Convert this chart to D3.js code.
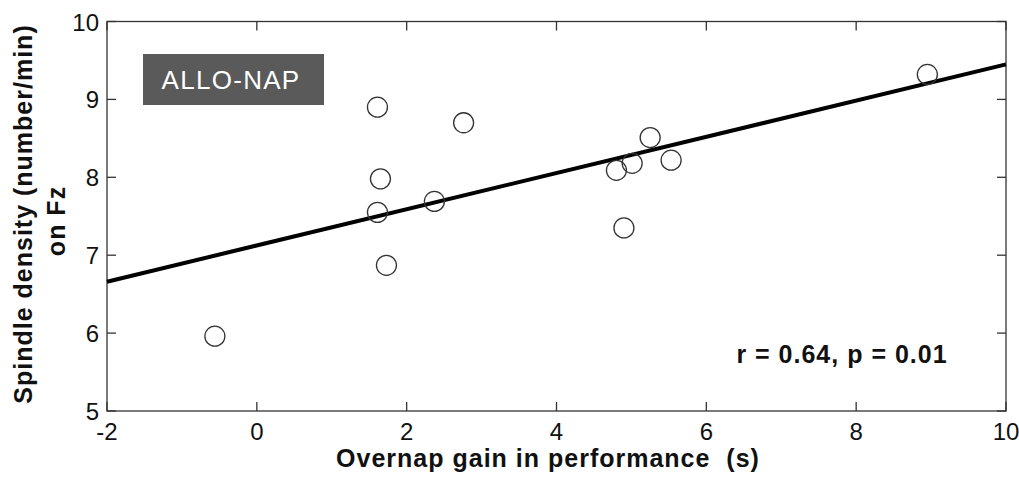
<!DOCTYPE html>
<html>
<head>
<meta charset="utf-8">
<script src="https://cdn.jsdelivr.net/npm/d3@7"></script>
<style>
    body { margin: 0; background: #fff; }
    text { font-family: "Liberation Sans", Arial, sans-serif; }
    .tick-label { font-size: 24px; fill: #111; }
    .axis-title { font-size: 25px; font-weight: bold; fill: #111; letter-spacing: 1px; }
</style>
</head>
<body>
<div id="chart"></div>
<script>
// overnap gain (s) vs spindle density on Fz
let gain = [-0.56, 1.61, 1.65, 1.61, 1.73, 2.37, 2.76, 4.80, 4.90, 5.01, 5.25, 5.53, 8.95];
let density = [5.96, 8.90, 7.98, 7.55, 6.87, 7.69, 8.70, 8.09, 7.35, 8.18, 8.51, 8.22, 9.32];

// regression line endpoints
let fitX = [-2, 10];
let fitY = [6.66, 9.45];

let xTicks = [-2, 0, 2, 4, 6, 8, 10];
let yTicks = [5, 6, 7, 8, 9, 10];

let width = 1019, height = 480;
let plotLeft = 107, plotRight = 1006, plotTop = 21.5, plotBottom = 411;

let svg = d3.select('#chart').append('svg')
    .attr('width', width)
    .attr('height', height);

let x = d3.scaleLinear().domain([-2, 10]).range([plotLeft, plotRight]);
let y = d3.scaleLinear().domain([5, 10]).range([plotBottom, plotTop]);

let tickLen = 9;
let axisColor = '#333';

// frame
svg.append('rect')
    .attr('x', plotLeft).attr('y', plotTop)
    .attr('width', plotRight - plotLeft).attr('height', plotBottom - plotTop)
    .attr('fill', 'none')
    .attr('stroke', axisColor)
    .attr('stroke-width', 1.3);

// inward ticks on all four sides
xTicks.forEach(function (t) {
    svg.append('line')
        .attr('x1', x(t)).attr('x2', x(t))
        .attr('y1', plotBottom).attr('y2', plotBottom - tickLen)
        .attr('stroke', axisColor).attr('stroke-width', 1.3);
    svg.append('line')
        .attr('x1', x(t)).attr('x2', x(t))
        .attr('y1', plotTop).attr('y2', plotTop + tickLen)
        .attr('stroke', axisColor).attr('stroke-width', 1.3);
    svg.append('text')
        .attr('class', 'tick-label')
        .attr('x', x(t))
        .attr('y', plotBottom + 29)
        .attr('text-anchor', 'middle')
        .text(t);
});

yTicks.forEach(function (t) {
    svg.append('line')
        .attr('x1', plotLeft).attr('x2', plotLeft + tickLen)
        .attr('y1', y(t)).attr('y2', y(t))
        .attr('stroke', axisColor).attr('stroke-width', 1.3);
    svg.append('line')
        .attr('x1', plotRight).attr('x2', plotRight - tickLen)
        .attr('y1', y(t)).attr('y2', y(t))
        .attr('stroke', axisColor).attr('stroke-width', 1.3);
    svg.append('text')
        .attr('class', 'tick-label')
        .attr('x', plotLeft - 8)
        .attr('y', y(t) + 9)
        .attr('text-anchor', 'end')
        .text(t);
});

// regression line
svg.append('line')
    .attr('x1', x(fitX[0])).attr('y1', y(fitY[0]))
    .attr('x2', x(fitX[1])).attr('y2', y(fitY[1]))
    .attr('stroke', '#000')
    .attr('stroke-width', 4);

// data points
svg.selectAll('circle.pt')
    .data(d3.zip(gain, density))
    .enter().append('circle')
    .attr('class', 'pt')
    .attr('cx', d => x(d[0]))
    .attr('cy', d => y(d[1]))
    .attr('r', 10)
    .attr('fill', 'none')
    .attr('stroke', '#333')
    .attr('stroke-width', 1.3);

// group label
svg.append('rect')
    .attr('x', 143).attr('y', 54)
    .attr('width', 181).attr('height', 51)
    .attr('fill', '#5a5a5a');
svg.append('text')
    .attr('x', 231).attr('y', 89)
    .attr('text-anchor', 'middle')
    .attr('fill', '#fff')
    .style('font-size', '26px')
    .style('letter-spacing', '1.3px')
    .text('ALLO-NAP');

// stats
svg.append('text')
    .attr('class', 'axis-title')
    .attr('x', 842).attr('y', 363)
    .attr('text-anchor', 'middle')
    .text('r = 0.64, p = 0.01');

// axis titles
svg.append('text')
    .attr('class', 'axis-title')
    .attr('x', 548).attr('y', 467)
    .attr('text-anchor', 'middle')
    .attr('xml:space', 'preserve')
    .text('Overnap gain in performance  (s)');

svg.append('text')
    .attr('class', 'axis-title')
    .attr('transform', 'translate(31.5,214) rotate(-90)')
    .attr('text-anchor', 'middle')
    .text('Spindle density (number/min)');
svg.append('text')
    .attr('class', 'axis-title')
    .attr('transform', 'translate(65,221) rotate(-90)')
    .attr('text-anchor', 'middle')
    .text('on Fz');
</script>
</body>
</html>
